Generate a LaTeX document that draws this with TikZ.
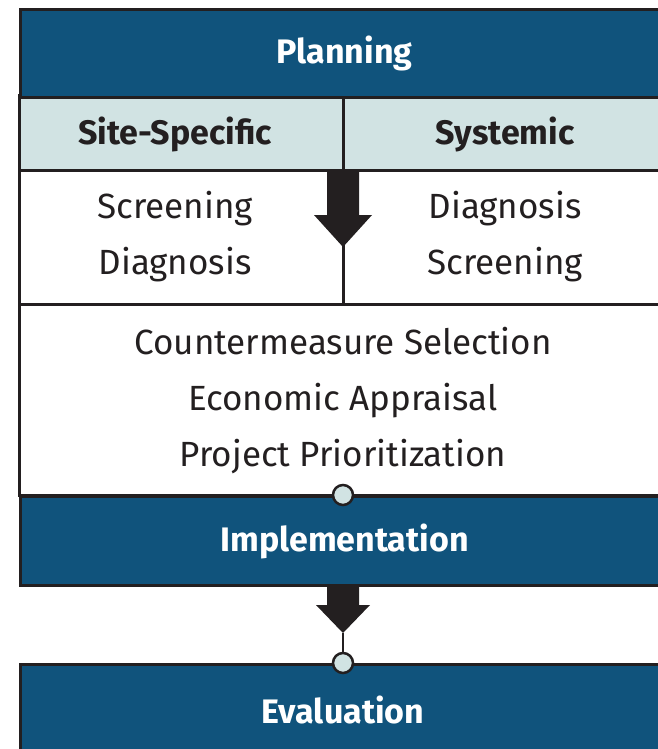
\documentclass[tikz,border=0pt]{standalone}
\usepackage{fontspec}
\setmainfont{Fira Sans}
\usetikzlibrary{positioning}
\definecolor{planblue}{HTML}{10537C}
\definecolor{palecyan}{HTML}{D1E3E3}
\definecolor{inkblack}{HTML}{231F20}

\begin{document}
\begin{tikzpicture}[x=1pt, y=-1pt, line width=3pt,
  band/.style={draw=inkblack, fill=planblue, text=white, anchor=north west,
    minimum width=648pt, inner sep=0pt, font=\bfseries\fontsize{34}{38}\selectfont},
  headtxt/.style={text=inkblack, inner sep=0pt, font=\bfseries\fontsize{34}{38}\selectfont},
  steptxt/.style={text=inkblack, inner sep=0pt, align=center, font=\fontsize{35}{56}\selectfont},
  fatarrow/.style={fill=inkblack, draw=none},
  joint/.style={circle, draw=inkblack, fill=palecyan, line width=2.5pt, minimum size=20pt, inner sep=0pt}]
  \clip (0,0) rectangle (658,749);
  \useasboundingbox (0,0) rectangle (658,749);

  % cells of the planning block
  \fill[white] (19,170) rectangle (667,495);
  \fill[palecyan] (19,96) rectangle (667,170);
  \draw[inkblack] (19,96) rectangle (667,495);
  \draw[inkblack] (19,170) -- (667,170);
  \draw[inkblack] (19,304) -- (667,304);
  \draw[inkblack] (343,96) -- (343,304);

  % bands
  \node[band, minimum height=88pt] (plan) at (19,8) {Planning};
  \node[band, minimum height=89pt] (impl) at (19,495) {Implementation};
  \node[band, minimum height=100pt] (eval) at (19,663) {};
  \node[text=white, inner sep=0pt, font=\bfseries\fontsize{34}{38}\selectfont] (evaltxt) at (343,710) {Evaluation};

  % headings and steps
  \node[headtxt] (site) at (175,134) {Site-Specific};
  \node[headtxt] (sys) at (505,134) {Systemic};
  \node[steptxt] (siteSteps) at (175,237) {Screening\\Diagnosis};
  \node[steptxt] (sysSteps) at (505,237) {Diagnosis\\Screening};
  \node[steptxt] (select) at (343,401) {Countermeasure Selection\\Economic Appraisal\\Project Prioritization};

  % flow between the blocks
  \coordinate (topA) at (343,170);
  \coordinate (tipA) at (343,247);
  \coordinate (topB) at (343,584);
  \coordinate (tipB) at (343,633);
  \node[joint] (jointA) at (343,495) {};
  \node[joint] (jointB) at (343,663) {};
  \fill[fatarrow] ([xshift=-16pt]topA) -- ++(0,45) -- ++(-13,0) -- (tipA) -- ++(29,-32) -- ++(-13,0) -- ([xshift=16pt]topA) -- cycle;
  \draw[inkblack] (tipA) -- (343,304);
  \fill[fatarrow] ([xshift=-16pt]topB) -- ++(0,21) -- ++(-11,0) -- (tipB) -- ++(27,-28) -- ++(-11,0) -- ([xshift=16pt]topB) -- cycle;
  \draw[inkblack, line width=2.5pt] (tipB) -- (jointB.north);
\end{tikzpicture}
\end{document}
